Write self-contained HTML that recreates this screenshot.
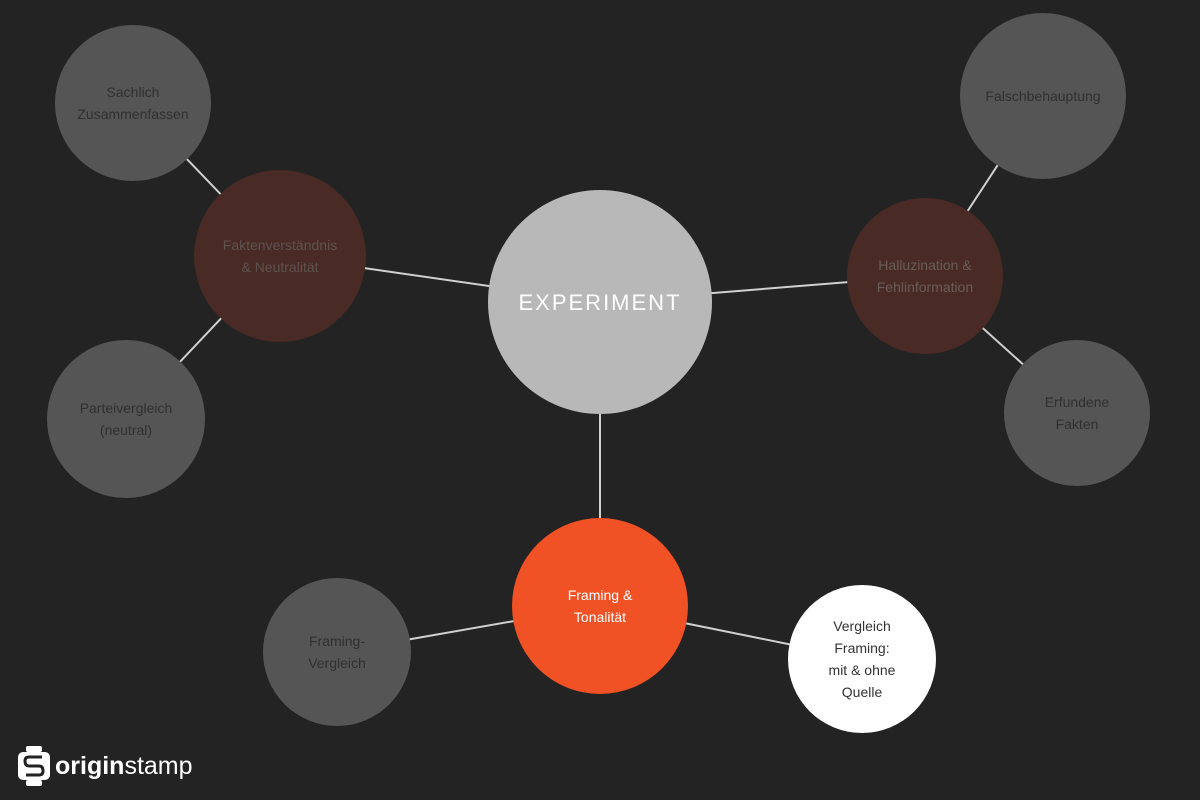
<!DOCTYPE html>
<html><head><meta charset="utf-8"><style>
html,body{margin:0;background:#232323;width:1200px;height:800px;overflow:hidden;}
svg{display:block;}
svg text{font-family:"Liberation Sans",sans-serif;}
</style></head><body>
<svg width="1200" height="800" xmlns="http://www.w3.org/2000/svg">
<rect width="1200" height="800" fill="#232323"/>
<g stroke="#d0d0d0" stroke-width="2">
<line x1="133" y1="103" x2="280" y2="256"/>
<line x1="126" y1="419" x2="280" y2="256"/>
<line x1="280" y1="256" x2="600" y2="302"/>
<line x1="600" y1="302" x2="925" y2="276"/>
<line x1="1043" y1="96" x2="925" y2="276"/>
<line x1="1077" y1="413" x2="925" y2="276"/>
<line x1="600" y1="302" x2="600" y2="606"/>
<line x1="337" y1="652" x2="600" y2="606"/>
<line x1="862" y1="659" x2="600" y2="606"/>
</g>
<circle cx="133" cy="103" r="78" fill="#555555"/>
<circle cx="126" cy="419" r="79" fill="#555555"/>
<circle cx="280" cy="256" r="86" fill="#4a2a24"/>
<circle cx="600" cy="302" r="112" fill="#b8b8b8"/>
<circle cx="1043" cy="96" r="83" fill="#555555"/>
<circle cx="925" cy="276" r="78" fill="#4a2a24"/>
<circle cx="1077" cy="413" r="73" fill="#555555"/>
<circle cx="600" cy="606" r="88" fill="#f05125"/>
<circle cx="337" cy="652" r="74" fill="#555555"/>
<circle cx="862" cy="659" r="74" fill="#ffffff"/>
<g font-size="14" text-anchor="middle" fill="#303030">
<text x="133" y="97">Sachlich</text><text x="133" y="119">Zusammenfassen</text>
<text x="126" y="413">Parteivergleich</text><text x="126" y="435">(neutral)</text>
<text x="1043" y="101">Falschbehauptung</text>
<text x="1077" y="407">Erfundene</text><text x="1077" y="429">Fakten</text>
<text x="337" y="646">Framing-</text><text x="337" y="668">Vergleich</text>
</g>
<g font-size="14" text-anchor="middle" fill="#5e5250">
<text x="280" y="250">Faktenverständnis</text><text x="280" y="272">&amp; Neutralität</text>
</g>
<g font-size="14" text-anchor="middle" fill="#6a5c58">
<text x="925" y="270">Halluzination &amp;</text><text x="925" y="292">Fehlinformation</text>
</g>
<text x="600" y="310" font-size="22" text-anchor="middle" fill="#ffffff" letter-spacing="2">EXPERIMENT</text>
<g font-size="14" text-anchor="middle" fill="#ffffff">
<text x="600" y="600">Framing &amp;</text><text x="600" y="622">Tonalität</text>
</g>
<g font-size="14" text-anchor="middle" fill="#333">
<text x="862" y="631">Vergleich</text><text x="862" y="653">Framing:</text>
<text x="862" y="675">mit &amp; ohne</text><text x="862" y="697">Quelle</text>
</g>
<g fill="#ffffff">
<rect x="26" y="746" width="16" height="6" rx="2"/>
<rect x="18" y="752" width="32" height="28" rx="5"/>
<rect x="26" y="780" width="16" height="6" rx="2"/>
</g>
<path d="M42 757 H29 Q25 757 25 761 Q25 766 29 766 H39 Q43 766 43 771 Q43 775 39 775 H26" stroke="#232323" stroke-width="3" fill="none"/>
<text x="55" y="774" font-size="25" fill="#ffffff" font-weight="bold">origin<tspan font-weight="normal">stamp</tspan></text>
</svg>
</body></html>
